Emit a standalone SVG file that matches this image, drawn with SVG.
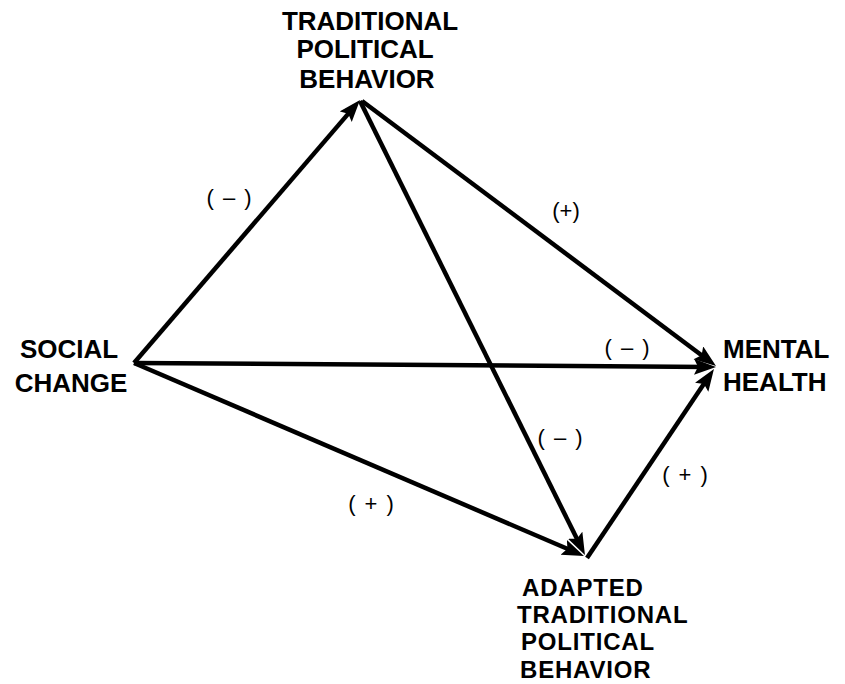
<svg xmlns="http://www.w3.org/2000/svg" width="845" height="684" viewBox="0 0 845 684">
<style>
.node text{font-family:"Liberation Sans",Arial,sans-serif;font-weight:bold;font-size:26px;fill:#000}
#adapted text{font-size:24px;letter-spacing:0.8px}
.lbl{font-family:"Liberation Sans",Arial,sans-serif;font-size:22px;fill:#000;text-anchor:middle;word-spacing:3px}
.edge{stroke:#000;stroke-width:4.5;fill:none;marker-end:url(#ah)}
</style>
<defs>
<marker id="ah" markerUnits="userSpaceOnUse" markerWidth="24" markerHeight="18" refX="14" refY="8" orient="auto">
<path d="M0,0 L22,8 L0,16 L4,8 z" fill="#000"/>
</marker>
</defs>
<rect width="845" height="684" fill="#fff"/>
<g id="connectors">
<line class="edge" x1="134" y1="363" x2="354.8" y2="106.1"/>
<line class="edge" x1="362" y1="101" x2="709.6" y2="361.2"/>
<line class="edge" x1="360" y1="101" x2="581.4" y2="547.8"/>
<line class="edge" x1="134" y1="363" x2="708" y2="366.9"/>
<line class="edge" x1="134" y1="363" x2="576.6" y2="552.8"/>
<line class="edge" x1="587" y1="558" x2="709.5" y2="375.6"/>
<text class="lbl" x="229" y="205">( – )</text>
<text class="lbl" x="566" y="218">(+)</text>
<text class="lbl" x="627" y="355">( – )</text>
<text class="lbl" x="560" y="445">( – )</text>
<text class="lbl" x="685" y="482">( + )</text>
<text class="lbl" x="371" y="511">( + )</text>
</g>
<g id="traditional" class="node" text-anchor="middle">
<text x="370" y="30">TRADITIONAL</text>
<text x="365" y="58">POLITICAL</text>
<text x="367" y="88">BEHAVIOR</text>
</g>
<g id="social" class="node" text-anchor="middle">
<text x="69" y="358">SOCIAL</text>
<text x="71" y="392">CHANGE</text>
</g>
<g id="mental" class="node">
<text x="723" y="358">MENTAL</text>
<text x="723" y="391">HEALTH</text>
</g>
<g id="adapted" class="node">
<text x="522" y="596">ADAPTED</text>
<text x="517" y="623">TRADITIONAL</text>
<text x="521" y="650">POLITICAL</text>
<text x="520" y="678">BEHAVIOR</text>
</g>
</svg>
